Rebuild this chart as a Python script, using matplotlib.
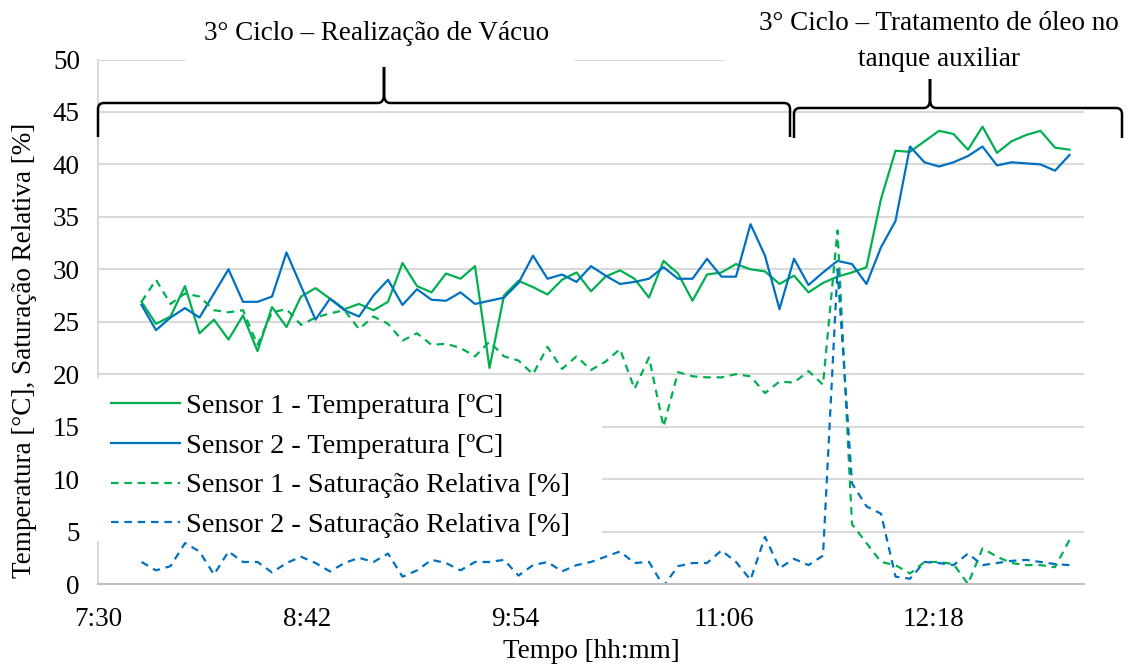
import numpy as np
import matplotlib
matplotlib.use('Agg')
import matplotlib.pyplot as plt
from matplotlib.patches import Rectangle, PathPatch
from matplotlib.path import Path

# dimensões da figura em pixels
W, H = 1129, 666

# minutos a partir das 7:30 (leituras a cada 5 min, a partir das 7:45)
minutos = np.arange(15, 15 + 5 * 65, 5)

s1_temp = [26.9, 24.8, 25.5, 28.4, 23.9, 25.2, 23.3, 25.6, 22.2, 26.4,
           24.5, 27.4, 28.2, 27.2, 26.2, 26.7, 26.1, 26.9, 30.6, 28.4,
           27.8, 29.6, 29.1, 30.3, 20.6, 27.5, 28.9, 28.3, 27.6, 29.0,
           29.7, 27.9, 29.3, 29.9, 29.1, 27.3, 30.8, 29.6, 27.0, 29.5,
           29.7, 30.5, 30.0, 29.8, 28.6, 29.4, 27.8, 28.7, 29.3, 29.7,
           30.2, 36.7, 41.3, 41.2, 42.2, 43.2, 42.9, 41.4, 43.6, 41.1,
           42.2, 42.8, 43.2, 41.6, 41.4]
s2_temp = [26.6, 24.2, 25.4, 26.3, 25.4, 27.7, 30.0, 26.9, 26.9, 27.4,
           31.6, 28.4, 25.2, 27.2, 26.1, 25.5, 27.5, 29.0, 26.6, 28.1,
           27.1, 27.0, 27.8, 26.7, 27.0, 27.3, 28.7, 31.3, 29.1, 29.5,
           28.8, 30.3, 29.4, 28.6, 28.8, 29.1, 30.2, 29.1, 29.1, 31.0,
           29.3, 29.3, 34.3, 31.3, 26.2, 31.0, 28.5, 29.7, 30.8, 30.5,
           28.6, 32.1, 34.6, 41.7, 40.2, 39.8, 40.2, 40.8, 41.7, 39.9,
           40.2, 40.1, 40.0, 39.4, 40.9]
s1_sat = [26.9, 29.0, 26.7, 27.7, 27.4, 26.1, 25.9, 26.1, 22.8, 25.9,
          26.2, 24.7, 25.4, 25.8, 26.1, 24.3, 25.5, 24.8, 23.2, 23.9,
          22.8, 22.9, 22.5, 21.7, 23.1, 21.7, 21.3, 20.0, 22.6, 20.5,
          21.7, 20.4, 21.2, 22.4, 18.6, 21.6, 15.0, 20.2, 19.8, 19.7,
          19.7, 20.0, 19.8, 18.2, 19.3, 19.2, 20.3, 19.0, 33.7, 5.7,
          3.9, 2.1, 1.8, 1.0, 2.1, 2.1, 1.9, 0.0, 3.4, 2.6,
          2.0, 1.8, 1.8, 1.6, 4.2]
s2_sat = [2.1, 1.3, 1.7, 3.9, 3.1, 0.9, 3.1, 2.1, 2.1, 1.1,
          2.0, 2.6, 2.0, 1.2, 2.0, 2.5, 2.1, 2.9, 0.7, 1.3,
          2.3, 2.0, 1.3, 2.1, 2.1, 2.3, 0.8, 1.8, 2.1, 1.2,
          1.8, 2.1, 2.6, 3.1, 2.0, 2.1, -0.2, 1.7, 2.0, 2.0,
          3.2, 2.1, 0.4, 4.5, 1.5, 2.4, 1.8, 2.7, 30.0, 9.6,
          7.4, 6.7, 0.7, 0.5, 2.1, 2.0, 1.8, 2.9, 1.8, 2.0,
          2.2, 2.3, 2.1, 1.9, 1.8]

ticks_x = [0, 72, 144, 216, 288]
rotulos_x = ['7:30', '8:42', '9:54', '11:06', '12:18']

verde = '#00b050'
azul = '#0070c0'

plt.rcParams['font.family'] = ['Liberation Serif', 'DejaVu Serif']
plt.rcParams['font.size'] = 19.5


def fx(px):
    return px / W


def fy(py):
    return 1 - py / H


fig = plt.figure(figsize=(W / 100, H / 100), dpi=100)
ax = fig.add_axes([fx(98), fy(584), fx(1084) - fx(98), fy(59.5) - fy(584)])

ax.plot(minutos, s1_temp, color=verde, lw=1.6, label='Sensor 1 - Temperatura [ºC]')
ax.plot(minutos, s2_temp, color=azul, lw=1.6, label='Sensor 2 - Temperatura [ºC]')
ax.plot(minutos, s1_sat, color=verde, lw=1.6, dashes=(3.4, 2.6),
        label='Sensor 1 - Saturação Relativa [%]')
ax.plot(minutos, s2_sat, color=azul, lw=1.6, dashes=(3.4, 2.6),
        label='Sensor 2 - Saturação Relativa [%]')

ax.set_xlim(0, 340)
ax.set_ylim(0, 50)
ax.set_yticks(range(0, 51, 5))
ax.set_xticks(ticks_x)
ax.set_xticklabels(rotulos_x)
ax.tick_params(length=0)
ax.tick_params(axis='y', pad=13)
ax.tick_params(axis='x', pad=16.5)
ax.grid(axis='y', color='#d9d9d9', lw=1.5)
ax.set_axisbelow(True)
for lado in ['top', 'right']:
    ax.spines[lado].set_visible(False)
ax.spines['left'].set_color('#d9d9d9')
ax.spines['left'].set_linewidth(1.5)
ax.spines['bottom'].set_color('#bfbfbf')
ax.spines['bottom'].set_linewidth(1.5)

# caixa branca da legenda
ax.add_patch(Rectangle((fx(94), fy(541)), fx(602) - fx(94), fy(378) - fy(541),
                       transform=fig.transFigure, facecolor='white', edgecolor='none',
                       zorder=4, clip_on=False))
leg = ax.legend(loc='upper left', bbox_to_anchor=(fx(111), fy(393)),
                bbox_transform=fig.transFigure, frameon=False, borderpad=0,
                handlelength=2.45, handletextpad=0.22, labelspacing=0.5,
                fontsize=20.3, borderaxespad=0)
leg.set_zorder(5)

fig.text(fx(591), fy(651), 'Tempo [hh:mm]', ha='center', va='center')
fig.text(fx(25), fy(350), 'Temperatura [°C], Saturação Relativa [%]',
         rotation=90, ha='center', va='center')

# caixas de texto das fases
fig.patches.append(Rectangle((fx(186), fy(63)), fx(574) - fx(186), fy(0) - fy(63),
                             transform=fig.transFigure, facecolor='white',
                             edgecolor='none', zorder=1))
fig.patches.append(Rectangle((fx(725), fy(64)), fx(1129) - fx(725), fy(0) - fy(64),
                             transform=fig.transFigure, facecolor='white',
                             edgecolor='none', zorder=1))
fig.text(fx(377), fy(34), '3° Ciclo – Realização de Vácuo', ha='center', va='center', zorder=3)
fig.text(fx(939), fy(24), '3° Ciclo – Tratamento de óleo no', ha='center', va='center', zorder=3)
fig.text(fx(939), fy(60), 'tanque auxiliar', ha='center', va='center', zorder=3)


def chave(x0, x1, xm, y, h, d, r=6):
    pts = [(x0, y + d), (x0, y + r), (x0, y), (x0 + r, y), (xm - r, y), (xm, y),
           (xm, y - 1.5 * r), (xm, y - h), (xm, y - 1.5 * r), (xm, y), (xm + r, y),
           (x1 - r, y), (x1, y), (x1, y + r), (x1, y + d)]
    codes = [Path.MOVETO, Path.LINETO, Path.CURVE3, Path.CURVE3, Path.LINETO,
             Path.CURVE3, Path.CURVE3, Path.LINETO, Path.LINETO, Path.CURVE3,
             Path.CURVE3, Path.LINETO, Path.CURVE3, Path.CURVE3, Path.LINETO]
    verts = [(fx(a), fy(b)) for a, b in pts]
    patch = PathPatch(Path(verts, codes), transform=fig.transFigure,
                      facecolor='none', edgecolor='black', lw=1.8, zorder=2)
    fig.patches.append(patch)


chave(98, 790, 384, 103, 36, 34)
chave(794, 1122, 930, 108, 29, 30)

fig.savefig('out.png', dpi=100)
